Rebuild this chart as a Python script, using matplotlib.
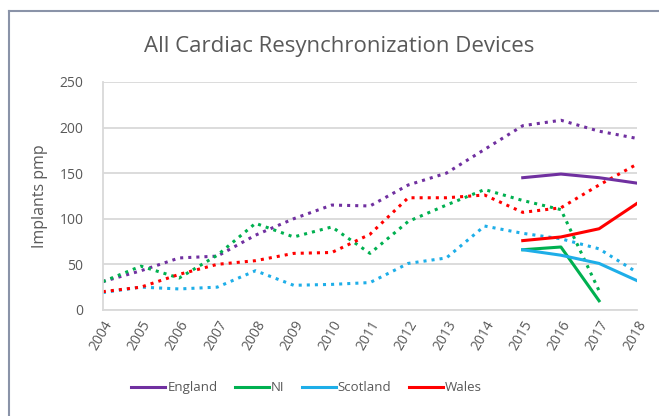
import numpy as np
import matplotlib.pyplot as plt
from matplotlib.lines import Line2D

years = list(range(2004, 2019))
years_recent = [2015, 2016, 2017, 2018]

# dotted series (all years)
england_all = [31, 43, 57, 59, 82, 100, 115, 114, 137, 150, 176, 202, 208, 196, 188]
ni_all = [31, 48, 35, 60, 95, 80, 91, 62, 97, 115, 132, 120, 110, 21, np.nan]
scotland_all = [19, 25, 23, 25, 43, 27, 28, 30, 51, 57, 92, 84, 78, 67, 41]
wales_all = [20, 25, 39, 50, 54, 62, 63, 83, 123, 123, 126, 107, 112, 137, 160]

# solid series (2015-2018)
england_recent = [145, 149, 145, 139]
ni_recent = [66, 69, 10]
scotland_recent = [66, 60, 51, 32]
wales_recent = [76, 80, 89, 117]

colors = {'England': '#7030A0', 'NI': '#00B050', 'Scotland': '#1EAEE8', 'Wales': '#FF0000'}
grey = '#595959'

plt.rcParams['font.family'] = ['Open Sans', 'DejaVu Sans']

fig = plt.figure(figsize=(6.59, 4.16), dpi=100)
ax = fig.add_axes([0.156, 0.255, 0.811, 0.548])

dotted = [('England', england_all), ('NI', ni_all), ('Scotland', scotland_all), ('Wales', wales_all)]
for name, vals in dotted:
    ax.plot(years, vals, linestyle=':', color=colors[name], linewidth=2.2)

solid = [('England', england_recent), ('NI', ni_recent), ('Scotland', scotland_recent), ('Wales', wales_recent)]
for name, vals in solid:
    ax.plot(years_recent[:len(vals)], vals, color=colors[name], linewidth=2.2, label=name)

ax.set_xlim(2004, 2018)
ax.set_ylim(0, 250)
ax.set_yticks(range(0, 251, 50))
ax.set_xticks(years)
ax.set_xticklabels([str(y) for y in years], rotation=60, ha='right', rotation_mode='anchor')
ax.tick_params(colors=grey, labelsize=10, length=0, pad=6)
ax.tick_params(axis='y', pad=14)
ax.grid(axis='y', color='#D9D9D9', linewidth=1.3)
ax.set_axisbelow(True)
for side in ['top', 'right']:
    ax.spines[side].set_visible(False)
for side in ['left', 'bottom']:
    ax.spines[side].set_color('#D9D9D9')
    ax.spines[side].set_linewidth(1.3)

ax.set_ylabel('Implants pmp', color=grey, fontsize=11.5, labelpad=8)
fig.text(0.515, 0.888, 'All Cardiac Resynchronization Devices', ha='center', va='center',
         fontsize=16, color=grey)

fig.legend(loc='center', bbox_to_anchor=(0.465, 0.068), ncol=4, frameon=False,
           fontsize=9.5, labelcolor=grey, handlelength=2.6, handletextpad=0.15, columnspacing=1.3)

# outer frame of the chart box
fig.add_artist(Line2D([9 / 659, 1.0], [1 - 11 / 416, 1 - 11 / 416], color='#8A93A8', linewidth=1.5))
fig.add_artist(Line2D([9 / 659, 9 / 659], [0.0, 1 - 11 / 416], color='#8A93A8', linewidth=1.5))

fig.savefig('out.png', dpi=100)
